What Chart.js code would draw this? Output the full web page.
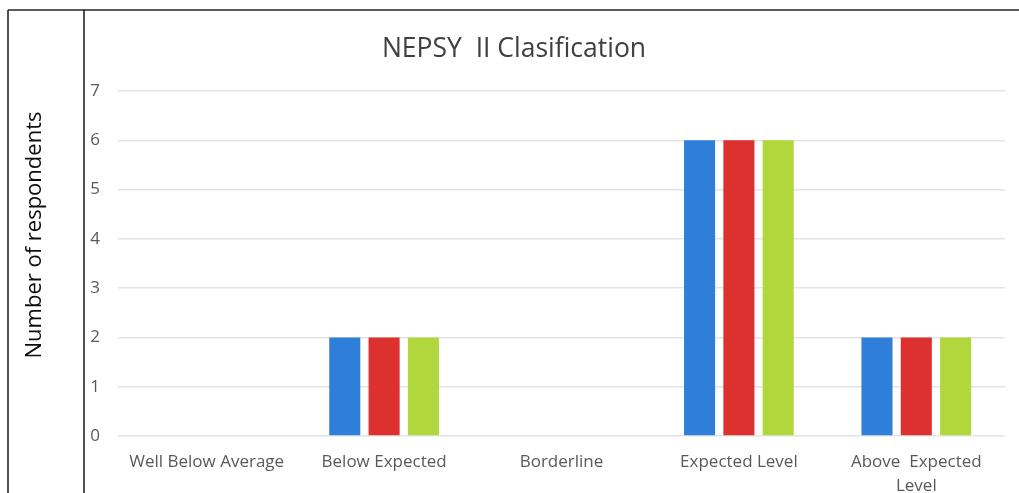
<!DOCTYPE html>
<html>
<head>
<meta charset="utf-8">
<script src="https://cdn.jsdelivr.net/npm/chart.js@4.4.1/dist/chart.umd.min.js"></script>
<style>
  html, body { margin: 0; padding: 0; background: #ffffff; }
  #wrap { position: relative; width: 1019px; height: 493px; }
</style>
</head>
<body>
<div id="wrap"><canvas id="chart" width="1019" height="493"></canvas></div>
<script>
// Classification categories (multi-line label for the last one)
const categories = [
  "Well Below Average",
  "Below Expected",
  "Borderline",
  "Expected Level",
  ["Above  Expected", "Level"]
];

// Respondent counts per classification, one array per series
const series1 = [0, 2, 0, 6, 2];
const series2 = [0, 2, 0, 6, 2];
const series3 = [0, 2, 0, 6, 2];

// Y axis range
const yTicks = [0, 1, 2, 3, 4, 5, 6, 7];

const Y_TITLE = 'Number of respondents';
const FONT = "'Open Sans', 'Noto Sans', 'DejaVu Sans', sans-serif";

// Frame lines around the plot, plus the y-axis title in its own cell
const framePlugin = {
  id: 'frame',
  afterDraw(chart) {
    const ctx = chart.ctx;
    ctx.save();
    ctx.strokeStyle = '#262626';
    ctx.lineWidth = 1.6;
    ctx.beginPath();
    ctx.moveTo(8, 10); ctx.lineTo(1019, 10);
    ctx.moveTo(8, 10); ctx.lineTo(8, 493);
    ctx.moveTo(84, 10); ctx.lineTo(84, 493);
    ctx.stroke();

    ctx.translate(35, 235);
    ctx.rotate(-Math.PI / 2);
    ctx.fillStyle = '#0d0d0d';
    ctx.font = "22px " + FONT;
    ctx.textAlign = 'center';
    ctx.textBaseline = 'middle';
    ctx.fillText(Y_TITLE, 0, 0);
    ctx.restore();
  }
};

new Chart(document.getElementById('chart'), {
  type: 'bar',
  data: {
    labels: categories,
    datasets: [
      { label: 'Series 1', data: series1, backgroundColor: '#2f7ed8' },
      { label: 'Series 2', data: series2, backgroundColor: '#dc312e' },
      { label: 'Series 3', data: series3, backgroundColor: '#b0d73c' }
    ]
  },
  options: {
    responsive: false,
    animation: false,
    devicePixelRatio: 1,
    layout: { padding: { left: 23, right: 14, top: 0, bottom: 0 } },
    datasets: {
      bar: { categoryPercentage: 0.665, barPercentage: 0.79, borderWidth: 0 }
    },
    plugins: {
      legend: { display: false },
      tooltip: { enabled: false },
      title: {
        display: true,
        text: 'NEPSY  II Clasification',
        color: '#404040',
        font: { family: FONT, size: 26.5, weight: 'normal', lineHeight: 1.2 },
        padding: { top: 33.5, bottom: 25.7 }
      }
    },
    scales: {
      x: {
        grid: { display: false, drawTicks: false },
        border: { display: false },
        afterFit(scale) { scale.height = 57; },
        ticks: {
          color: '#595959',
          font: { family: FONT, size: 17, lineHeight: 1.45 },
          padding: 13.5,
          maxRotation: 0,
          autoSkip: false
        }
      },
      y: {
        min: yTicks[0],
        max: yTicks[yTicks.length - 1],
        afterBuildTicks(scale) { scale.ticks = yTicks.map(v => ({ value: v })); },
        afterFit(scale) { scale.width = 95; },
        grid: { color: '#e4e4e4', lineWidth: 1.5, drawTicks: false },
        border: { display: false },
        ticks: {
          color: '#595959',
          font: { family: FONT, size: 17 },
          padding: 18
        }
      }
    }
  },
  plugins: [framePlugin]
});
</script>
</body>
</html>
